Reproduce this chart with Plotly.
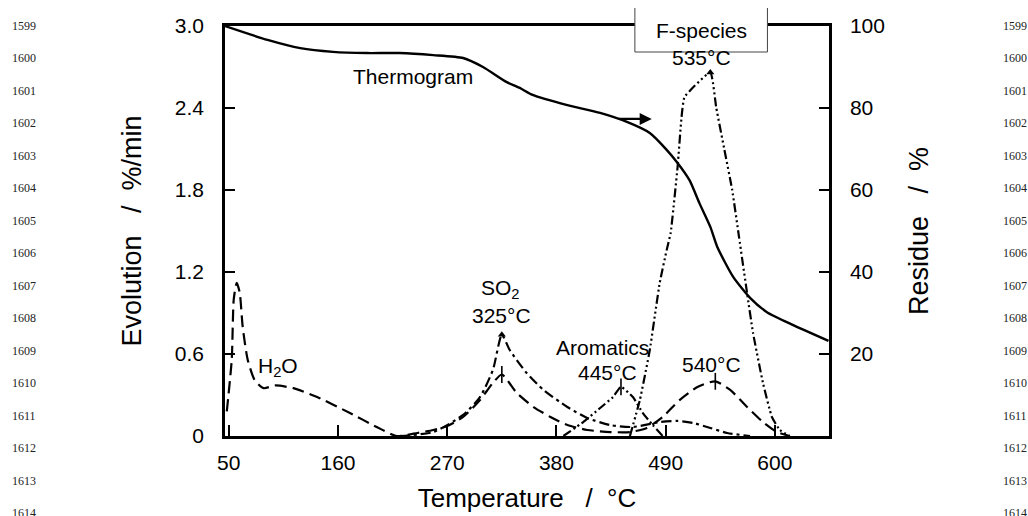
import plotly.graph_objects as go

# ---- data -----------------------------------------------------------------
# Thermogram (residue, right axis)
thermo_temp = [46, 89, 122, 155, 189, 222, 256, 286, 306, 330, 343, 356, 391, 424,
               451, 474, 491, 502, 514, 524, 535, 542, 558, 575, 592, 618, 654]
thermo_residue = [100, 96.6, 94.6, 93.7, 93.4, 93.4, 92.9, 92.2, 90.0, 86.3, 84.9, 83.2,
                  80.7, 78.8, 76.6, 73.9, 69.8, 66.6, 62.4, 56.8, 51.0, 46.1, 38.8, 33.7,
                  30.2, 27.1, 23.2]

# H2O evolution (dashed)
h2o_temp = [48, 53, 55, 58, 61, 64, 69, 76, 85, 97, 115, 139, 172, 199, 219, 240, 256,
            270, 286, 303, 316, 325, 340, 357, 374, 391, 411, 434, 454, 471, 487, 504,
            522, 540, 555, 572, 588, 602, 615]
h2o_rate = [0.18, 0.56, 1.00, 1.12, 1.05, 0.80, 0.56, 0.41, 0.35, 0.37, 0.35, 0.285,
            0.168, 0.066, 0.0, 0.022, 0.044, 0.073, 0.139, 0.263, 0.388, 0.45, 0.315,
            0.212, 0.139, 0.080, 0.044, 0.029, 0.029, 0.059, 0.139, 0.263, 0.359, 0.40,
            0.337, 0.212, 0.102, 0.029, 0.0]

# SO2 evolution (dash-dot)
so2_temp = [222, 256, 286, 303, 316, 325, 333, 350, 367, 391, 411, 434, 457, 484, 502,
            518, 535, 552, 575]
so2_rate = [0.0, 0.029, 0.154, 0.285, 0.483, 0.74, 0.629, 0.461, 0.337, 0.212, 0.132,
            0.080, 0.066, 0.102, 0.110, 0.095, 0.059, 0.022, 0.0]

# Aromatics evolution (dash-dot-dot)
arom_temp = [387, 407, 424, 437, 445, 457, 467, 477, 487]
arom_rate = [0.0, 0.102, 0.205, 0.285, 0.36, 0.285, 0.168, 0.080, 0.0]

# F-species evolution (dash-dot-dot-dot)
fsp_temp = [454, 464, 474, 484, 491, 495, 502, 506, 509, 535, 541, 549, 557, 564, 572,
            578, 588, 597, 605, 615]
fsp_rate = [0.0, 0.263, 0.629, 1.12, 1.36, 1.485, 1.968, 2.334, 2.48, 2.66, 2.40, 2.10,
            1.80, 1.45, 1.046, 0.754, 0.388, 0.139, 0.044, 0.0]

# peak positions marked on the curves
so2_peak = (325, 0.74)
h2o_peaks_temp = [325, 540]
h2o_peaks_rate = [0.45, 0.40]
arom_peak = (445, 0.36)
fsp_peak = (535, 2.66)

x_ticks = [50, 160, 270, 380, 490, 600]
y_left_ticks = [0, 0.6, 1.2, 1.8, 2.4, 3.0]
y_left_labels = ["0", "0.6", "1.2", "1.8", "2.4", "3.0"]
y_right_ticks = [20, 40, 60, 80, 100]
line_numbers = list(range(1599, 1615))

FONT = "Liberation Sans, Arial, sans-serif"
INK = "#000000"

# plot-area geometry in pixels (used for paper-referenced items)
L, R, T, B = 225, 829, 26, 436


def paper_x(px):
    return (px - L) / (R - L)


def paper_y(py):
    return (B - py) / (B - T)


fig = go.Figure()

fig.add_trace(go.Scatter(x=h2o_temp, y=h2o_rate, mode="lines",
                         line=dict(color=INK, width=2.2, dash="12px,6px", shape="spline",
                                   smoothing=0.6)))
fig.add_trace(go.Scatter(x=so2_temp, y=so2_rate, mode="lines",
                         line=dict(color=INK, width=2.2, dash="10px,4px,3px,4px",
                                   shape="spline", smoothing=0.6)))
fig.add_trace(go.Scatter(x=arom_temp, y=arom_rate, mode="lines",
                         line=dict(color=INK, width=2.2, dash="9px,3px,2px,3px,2px,3px",
                                   shape="spline", smoothing=0.4)))
fig.add_trace(go.Scatter(x=fsp_temp, y=fsp_rate, mode="lines",
                         line=dict(color=INK, width=2.2,
                                   dash="9px,3px,2px,3px,2px,3px,2px,3px",
                                   shape="spline", smoothing=0.4)))
fig.add_trace(go.Scatter(x=thermo_temp, y=thermo_residue, mode="lines", yaxis="y2",
                         line=dict(color=INK, width=2.4, shape="spline", smoothing=0.6)))

# peak tick marks
fig.add_trace(go.Scatter(x=h2o_peaks_temp + [arom_peak[0]],
                         y=h2o_peaks_rate + [arom_peak[1]], mode="markers",
                         marker=dict(symbol="line-ns-open", size=12, color=INK,
                                     line=dict(color=INK, width=1.6))))
fig.add_trace(go.Scatter(x=[so2_peak[0], fsp_peak[0]], y=[so2_peak[1], fsp_peak[1]],
                         mode="markers",
                         marker=dict(symbol="triangle-up", size=7, color=INK)))

ann = []
txt = dict(font=dict(family=FONT, size=21, color=INK), showarrow=False,
           xref="x", yref="y", xanchor="center", yanchor="middle")
ann.append(dict(x=236, y=2.63, text="Thermogram", **txt))
ann.append(dict(x=100, y=0.505, text="H<sub>2</sub>O", **txt))
ann.append(dict(x=324, y=1.075, text="SO<sub>2</sub>", **txt))
ann.append(dict(x=so2_peak[0], y=0.88, text=f"{so2_peak[0]}°C", **txt))
ann.append(dict(x=426, y=0.644, text="Aromatics", **txt))
ann.append(dict(x=431, y=0.468, text=f"{arom_peak[0]}°C", **txt))
ann.append(dict(x=536, y=0.52, text=f"{h2o_peaks_temp[1]}°C", **txt))
ann.append(dict(x=526, y=2.77, text=f"{fsp_peak[0]}°C", **txt))
ann.append(dict(x=526, y=paper_y(30), xref="x", yref="paper", text="F-species",
                font=dict(family=FONT, size=21, color=INK), showarrow=False,
                xanchor="center", yanchor="middle"))

# arrow pointing to the residue axis
ann.append(dict(x=476, y=2.32, ax=441, ay=2.32, xref="x", yref="y", axref="x", ayref="y",
                showarrow=True, arrowhead=2, arrowsize=1.1, arrowwidth=2.2,
                arrowcolor=INK, text=""))

# line numbering in both margins
for i, n in enumerate(line_numbers):
    py = 26 + 32.47 * i
    for px in (24, 1015):
        ann.append(dict(x=paper_x(px), y=paper_y(py), xref="paper", yref="paper",
                        xanchor="center", yanchor="middle",
                        text=str(n), showarrow=False,
                        font=dict(family="Liberation Serif, Times New Roman, serif",
                                  size=12, color="#222222")))

# F-species label box overlapping the top frame (open at the top)
bx0, bx1 = 459, 592.5
by0, by1 = paper_y(52), paper_y(8)
shapes = [
    dict(type="rect", xref="x", yref="paper", x0=bx0, x1=bx1, y0=by0, y1=by1,
         line=dict(width=0), fillcolor="white", layer="above"),
    dict(type="path", xref="x", yref="paper", layer="above",
         path=f"M {bx0},{by1} L {bx0},{by0} L {bx1},{by0} L {bx1},{by1}",
         line=dict(color="#444444", width=1)),
]

fig.update_layout(
    width=1028, height=516,
    margin=dict(l=L, r=1028 - R, t=T, b=516 - B),
    paper_bgcolor="white", plot_bgcolor="white",
    showlegend=False,
    annotations=ann, shapes=shapes,
    font=dict(family=FONT, color=INK),
    xaxis=dict(range=[46.2, 654.5], tickvals=x_ticks, ticks="inside", ticklen=11,
               tickwidth=1.5, tickcolor=INK, showline=True, linewidth=2.5, linecolor=INK,
               mirror=True, showgrid=False, zeroline=False, automargin=False,
               tickfont=dict(family=FONT, size=21), ticklabelstandoff=6,
               title=dict(text="Temperature&nbsp;&nbsp;&nbsp;/&nbsp;&nbsp;°C",
                          font=dict(family=FONT, size=26), standoff=16)),
    yaxis=dict(range=[0, 3.0], tickvals=y_left_ticks, ticktext=y_left_labels,
               ticks="inside", ticklen=10, tickwidth=1.5, tickcolor=INK, showline=True,
               linewidth=2.5, linecolor=INK, showgrid=False, zeroline=False,
               automargin=False,
               tickfont=dict(family=FONT, size=21), ticklabelstandoff=14,
               title=dict(text="Evolution&nbsp;&nbsp;&nbsp;/&nbsp;&nbsp;%/min",
                          font=dict(family=FONT, size=27), standoff=26)),
    yaxis2=dict(range=[0, 100], tickvals=y_right_ticks, overlaying="y", side="right",
                ticks="inside", ticklen=10, tickwidth=1.5, tickcolor=INK, showline=True,
                linewidth=2.5, linecolor=INK, showgrid=False, zeroline=False,
                automargin=False,
                tickfont=dict(family=FONT, size=21), ticklabelstandoff=14,
                title=dict(text="Residue&nbsp;&nbsp;&nbsp;/&nbsp;&nbsp;%",
                           font=dict(family=FONT, size=27), standoff=26)),
)

fig.write_html("out.html")
